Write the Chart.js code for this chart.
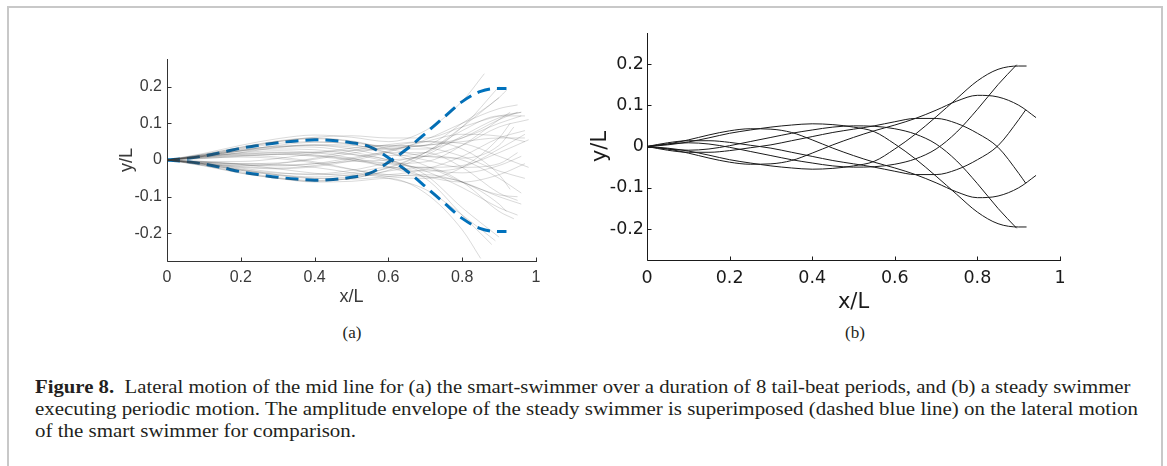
<!DOCTYPE html>
<html><head><meta charset="utf-8">
<script src="https://cdn.jsdelivr.net/npm/chart.js@4.4.1/dist/chart.umd.min.js"></script>
<style>
html,body{margin:0;padding:0;background:#fff;width:1167px;height:466px;overflow:hidden;position:relative;}
#frame{position:absolute;left:7px;top:6px;width:1156px;height:480px;border:2px solid #c8c8c8;box-sizing:border-box;}
.box{position:absolute;}
.lbl{position:absolute;font-family:"Liberation Serif";font-size:17px;color:#231f20;transform:translate(-50%,-50%);white-space:nowrap;}
.cap{position:absolute;left:35px;font-family:"Liberation Serif";font-size:18px;color:#231f20;white-space:nowrap;transform-origin:0 50%;line-height:20px;}
</style></head>
<body>
<div id="frame"></div>
<div class="box" style="left:100px;top:40px;width:460px;height:280px"><canvas id="ca" width="460" height="280"></canvas></div>
<div class="box" style="left:580px;top:15px;width:500px;height:305px"><canvas id="cb" width="500" height="305"></canvas></div>
<div class="lbl" style="left:352px;top:333px">(a)</div>
<div class="lbl" style="left:855px;top:333px">(b)</div>
<div class="cap" id="l1" style="top:377px"><b>Figure 8.</b>&nbsp; Lateral motion of the mid line for (a) the smart-swimmer over a duration of 8 tail-beat periods, and (b) a steady swimmer</div>
<div class="cap" id="l2" style="top:399px">executing periodic motion. The amplitude envelope of the steady swimmer is superimposed (dashed blue line) on the lateral motion</div>
<div class="cap" id="l3" style="top:421px">of the smart swimmer for comparison.</div>
<script>
// ---- tick labels ----
const xTicks = [0, 0.2, 0.4, 0.6, 0.8, 1];
const xTickLabels = ['0', '0.2', '0.4', '0.6', '0.8', '1'];
const yTicks = [-0.2, -0.1, 0, 0.1, 0.2];
const yTickLabels = ['-0.2', '-0.1', '0', '0.1', '0.2'];

// ---- panel (a): blue dashed amplitude envelope of steady swimmer ----
const envX = [0, 0.05, 0.1, 0.15, 0.2, 0.25, 0.3, 0.35, 0.4, 0.45, 0.5, 0.55, 0.6, 0.65, 0.7, 0.75, 0.8, 0.85, 0.9, 0.92];
const envUpper = [0, -0.004, -0.011, -0.021, -0.032, -0.04, -0.047, -0.052, -0.055, -0.053, -0.047, -0.036, -0.006, 0.03, 0.072, 0.116, 0.159, 0.187, 0.195, 0.195];
const envLower = [0, 0.004, 0.011, 0.021, 0.032, 0.04, 0.047, 0.052, 0.055, 0.053, 0.047, 0.036, 0.006, -0.03, -0.072, -0.116, -0.159, -0.187, -0.195, -0.195];

// ---- panel (a): smart swimmer mid lines (grey), y at gridA below end, then tail ----
const gridA = [0, 0.1, 0.2, 0.3, 0.4, 0.5, 0.6, 0.7, 0.8, 0.9];
const smartEndX = [0.95, 0.96, 0.86, 0.85, 0.97, 0.97, 0.93, 0.93, 0.95, 0.95, 0.98, 0.98, 0.94, 0.9, 0.96, 0.96, 0.92, 0.9, 0.97, 0.88, 0.95, 0.97, 0.9, 0.96,
                   0.97, 0.96, 0.92, 0.94, 0.97, 0.98, 0.95, 0.89, 0.96, 0.97, 0.93, 0.95];
const smartY = [
  [0, 0.012, 0.03, 0.045, 0.05, 0.042, 0.02, -0.015, -0.06, -0.095, -0.1],
  [0, -0.014, -0.032, -0.048, -0.056, -0.05, -0.028, 0.012, 0.065, 0.115, 0.13],
  [0, 0.018, 0.04, 0.058, 0.068, 0.062, 0.05, 0.08, 0.16, 0.235],
  [0, -0.016, -0.036, -0.05, -0.06, -0.058, -0.05, -0.09, -0.19, -0.268],
  [0, 0.01, 0.02, 0.025, 0.02, 0.005, -0.02, -0.045, -0.06, -0.04, -0.01],
  [0, -0.008, -0.018, -0.022, -0.015, 0.002, 0.025, 0.05, 0.07, 0.065, 0.05],
  [0, 0.008, 0.012, 0.008, -0.005, -0.025, -0.045, -0.05, -0.02, 0.06, 0.1],
  [0, -0.01, -0.016, -0.01, 0.005, 0.025, 0.042, 0.05, 0.03, -0.04, -0.08],
  [0, 0.014, 0.028, 0.036, 0.035, 0.022, 0, -0.03, -0.075, -0.13, -0.15],
  [0, -0.01, -0.02, -0.024, -0.018, -0.002, 0.022, 0.055, 0.1, 0.14, 0.15],
  [0, 0.006, 0.012, 0.015, 0.012, 0.004, -0.01, -0.02, -0.015, 0.02, 0.055],
  [0, -0.006, -0.01, -0.008, 0.002, 0.018, 0.036, 0.05, 0.045, 0.01, -0.02],
  [0, 0.016, 0.034, 0.05, 0.058, 0.05, 0.03, 0.01, 0.005, 0.04, 0.09],
  [0, -0.012, -0.028, -0.04, -0.046, -0.04, -0.022, 0.02, 0.09, 0.17],
  [0, 0.01, 0.025, 0.04, 0.048, 0.046, 0.038, 0.04, 0.06, 0.1, 0.12],
  [0, -0.01, -0.025, -0.04, -0.05, -0.052, -0.045, -0.04, -0.06, -0.1, -0.12],
  [0, 0.005, 0.008, 0.004, -0.008, -0.026, -0.04, -0.045, -0.06, -0.12, -0.14],
  [0, 0.012, 0.026, 0.038, 0.04, 0.03, 0.012, 0.02, 0.09, 0.2],
  [0, -0.004, -0.004, 0.004, 0.018, 0.032, 0.04, 0.035, 0.01, -0.03, -0.05],
  [0, -0.01, -0.022, -0.034, -0.04, -0.035, -0.02, -0.05, -0.15, -0.23],
  [0, 0.012, 0.025, 0.035, 0.04, 0.035, 0.02, 0, -0.02, -0.01, 0.02],
  [0, -0.012, -0.028, -0.042, -0.05, -0.045, -0.02, 0.02, 0.08, 0.12, 0.12],
  [0, 0.008, 0.015, 0.02, 0.02, 0.015, 0, -0.04, -0.13, -0.21],
  [0, 0.014, 0.032, 0.05, 0.062, 0.066, 0.06, 0.06, 0.09, 0.12, 0.13],
  [0, 0.01, 0.018, 0.02, 0.014, 0, -0.018, -0.03, -0.02, 0.03, 0.07],
  [0, -0.012, -0.026, -0.036, -0.038, -0.028, -0.008, 0.01, 0, -0.05, -0.09],
  [0, 0.015, 0.035, 0.052, 0.06, 0.052, 0.035, 0.04, 0.1, 0.17, 0.19],
  [0, -0.015, -0.035, -0.05, -0.058, -0.05, -0.03, -0.02, -0.06, -0.14, -0.16],
  [0, 0.004, 0.01, 0.016, 0.022, 0.026, 0.03, 0.04, 0.05, 0.06, 0.06],
  [0, -0.006, -0.012, -0.014, -0.01, -0.004, 0, 0.01, 0.04, 0.09, 0.11],
  [0, 0.008, 0.02, 0.034, 0.042, 0.04, 0.03, 0.03, 0.06, 0.11, 0.13],
  [0, -0.006, -0.01, -0.012, -0.02, -0.035, -0.05, -0.08, -0.15, -0.22],
  [0, 0.012, 0.024, 0.03, 0.028, 0.016, -0.004, -0.025, -0.035, -0.015, 0.01],
  [0, -0.004, -0.012, -0.024, -0.036, -0.042, -0.04, -0.025, 0.01, 0.06, 0.08],
  [0, 0.01, 0.016, 0.016, 0.01, 0, -0.01, -0.005, 0.04, 0.11, 0.13],
  [0, -0.008, -0.014, -0.016, -0.01, 0.006, 0.02, 0.02, -0.02, -0.09, -0.11]
];

// ---- panel (b): steady swimmer, 8 snapshots ----
const gridB = [0, 0.05, 0.1, 0.15, 0.2, 0.25, 0.3, 0.35, 0.4, 0.45, 0.5, 0.55, 0.6, 0.65, 0.7, 0.75, 0.8, 0.85, 0.9];
const steadyEndX = [0.919, 0.895, 0.942, 0.917, 0.919, 0.895, 0.942, 0.917];
const steadyY = [
  [0, -0.004, -0.011, -0.021, -0.032, -0.04, -0.047, -0.052, -0.055, -0.053, -0.047, -0.036, -0.006, 0.03, 0.072, 0.116, 0.159, 0.187, 0.195, 0.195],
  [0, 0.006, 0.009, 0.006, -0.002, -0.012, -0.022, -0.032, -0.04, -0.047, -0.05, -0.049, -0.043, -0.03, -0.006, 0.035, 0.09, 0.15, 0.198],
  [0, -0.006, -0.016, -0.028, -0.038, -0.043, -0.042, -0.034, -0.016, 0.004, 0.022, 0.038, 0.052, 0.068, 0.088, 0.11, 0.124, 0.12, 0.1, 0.07],
  [0, 0.009, 0.014, 0.014, 0.01, 0.003, -0.004, -0.014, -0.024, -0.034, -0.042, -0.05, -0.06, -0.068, -0.068, -0.056, -0.032, 0.002, 0.065, 0.089],
  [0, 0.004, 0.011, 0.021, 0.032, 0.04, 0.047, 0.052, 0.055, 0.053, 0.047, 0.036, 0.006, -0.03, -0.072, -0.116, -0.159, -0.187, -0.195, -0.195],
  [0, -0.006, -0.009, -0.006, 0.002, 0.012, 0.022, 0.032, 0.04, 0.047, 0.05, 0.049, 0.043, 0.03, 0.006, -0.035, -0.09, -0.15, -0.198],
  [0, 0.006, 0.016, 0.028, 0.038, 0.043, 0.042, 0.034, 0.016, -0.004, -0.022, -0.038, -0.052, -0.068, -0.088, -0.11, -0.124, -0.12, -0.1, -0.07],
  [0, -0.009, -0.014, -0.014, -0.01, -0.003, 0.004, 0.014, 0.024, 0.034, 0.042, 0.05, 0.06, 0.068, 0.068, 0.056, 0.032, -0.002, -0.065, -0.089]
];

function pts(grid, ys, endX) {
  const xs = grid.filter(v => v < endX - 1e-9);
  xs.push(endX);
  return xs.map((x, i) => ({x: x, y: ys[i]}));
}

const axisPlugin = {
  id: 'axisPlugin',
  afterDraw(chart, args, o) {
    const {ctx, chartArea: a, scales: {x, y}} = chart;
    ctx.save();
    ctx.strokeStyle = o.color; ctx.lineWidth = 1;
    ctx.beginPath();
    const b = Math.round(a.bottom) + 0.5, l = Math.round(a.left) + 0.5;
    ctx.moveTo(l, Math.round(a.top)); ctx.lineTo(l, b);
    ctx.lineTo(Math.round(a.right) + 1, b);
    xTicks.forEach(v => { const px = Math.round(x.getPixelForValue(v)) + 0.5; ctx.moveTo(px, b); ctx.lineTo(px, b - o.len); });
    yTicks.forEach(v => { const py = Math.round(y.getPixelForValue(v)) + 0.5; ctx.moveTo(l, py); ctx.lineTo(l + o.len, py); });
    ctx.stroke();
    ctx.restore();
  }
};

function makeChart(id, datasets, c) {
  return new Chart(document.getElementById(id), {
    type: 'line',
    data: {datasets: datasets},
    options: {
      responsive: false, animation: false, devicePixelRatio: 1,
      layout: {padding: {top: c.padTop, right: c.padRight, left: 0, bottom: 0}},
      plugins: {legend: {display: false}, tooltip: {enabled: false}, axisPlugin: {color: c.axisColor, len: c.tickLen}},
      elements: {point: {radius: 0}, line: {cubicInterpolationMode: 'monotone', fill: false}},
      scales: {
        x: {
          type: 'linear', min: 0, max: 1,
          afterBuildTicks: s => { s.ticks = xTicks.map(v => ({value: v})); },
          afterFit: s => { s.height = c.xHeight; },
          grid: {display: false, drawTicks: false}, border: {display: false},
          ticks: {padding: c.xPad, color: c.textColor, font: {family: c.font, size: c.tickSize}, maxRotation: 0,
                  callback: (v, i) => xTickLabels[i]},
          title: {display: true, text: 'x/L', color: c.textColor, font: {family: c.font, size: c.titleSize}, padding: {top: 0, bottom: c.xTitlePad}}
        },
        y: {
          type: 'linear', min: c.yMin, max: c.yMax,
          afterBuildTicks: s => { s.ticks = yTicks.map(v => ({value: v})); },
          afterFit: s => { s.width = c.yWidth; },
          grid: {display: false, drawTicks: false}, border: {display: false},
          ticks: {padding: c.yPad, color: c.textColor, font: {family: c.font, size: c.tickSize},
                  callback: (v, i) => yTickLabels[i]},
          title: {display: true, text: 'y/L', color: c.textColor, font: {family: c.font, size: c.titleSize}, padding: {top: c.yTitlePad, bottom: 0}}
        }
      }
    },
    plugins: [axisPlugin]
  });
}

// panel (a)
const dsA = smartY.map((ys, k) => ({
  data: pts(gridA, ys, smartEndX[k]), borderColor: 'rgba(60,60,60,0.28)', borderWidth: 0.7
}));
dsA.push({data: envX.map((x, i) => ({x: x, y: envUpper[i]})), borderColor: '#0072BD', borderWidth: 3, borderDash: [13, 7]});
dsA.push({data: envX.map((x, i) => ({x: x, y: envLower[i]})), borderColor: '#0072BD', borderWidth: 3, borderDash: [13, 7]});
makeChart('ca', dsA, {
  padTop: 19, padRight: 24, xHeight: 59, yWidth: 67, yMin: -0.275, yMax: 0.275,
  font: '"Liberation Sans", Arial, sans-serif', tickSize: 16, titleSize: 18,
  textColor: '#3a3a3a', axisColor: '#333', tickLen: 4, xPad: 7, yPad: 5, xTitlePad: 12, yTitlePad: 16
});

// panel (b)
const dsB = steadyY.map((ys, k) => ({
  data: pts(gridB, ys, steadyEndX[k]), borderColor: '#1a1a1a', borderWidth: 1
}));
makeChart('cb', dsB, {
  padTop: 18, padRight: 20, xHeight: 60, yWidth: 67, yMin: -0.275, yMax: 0.275,
  font: '"DejaVu Sans", sans-serif', tickSize: 17.5, titleSize: 21,
  textColor: '#1a1a1a', axisColor: '#1a1a1a', tickLen: 4, xPad: 8, yPad: 3, xTitlePad: 5, yTitlePad: 8
});

// fit caption lines to their measured widths in the reference
function fit(id, w) { const e = document.getElementById(id); const s = w / e.scrollWidth; e.style.transform = 'scaleX(' + s + ')'; return s; }
fit('l1', 1095);
const s2 = fit('l2', 1103);
document.getElementById('l3').style.transform = 'scaleX(' + s2 + ')';
</script>
</body></html>
